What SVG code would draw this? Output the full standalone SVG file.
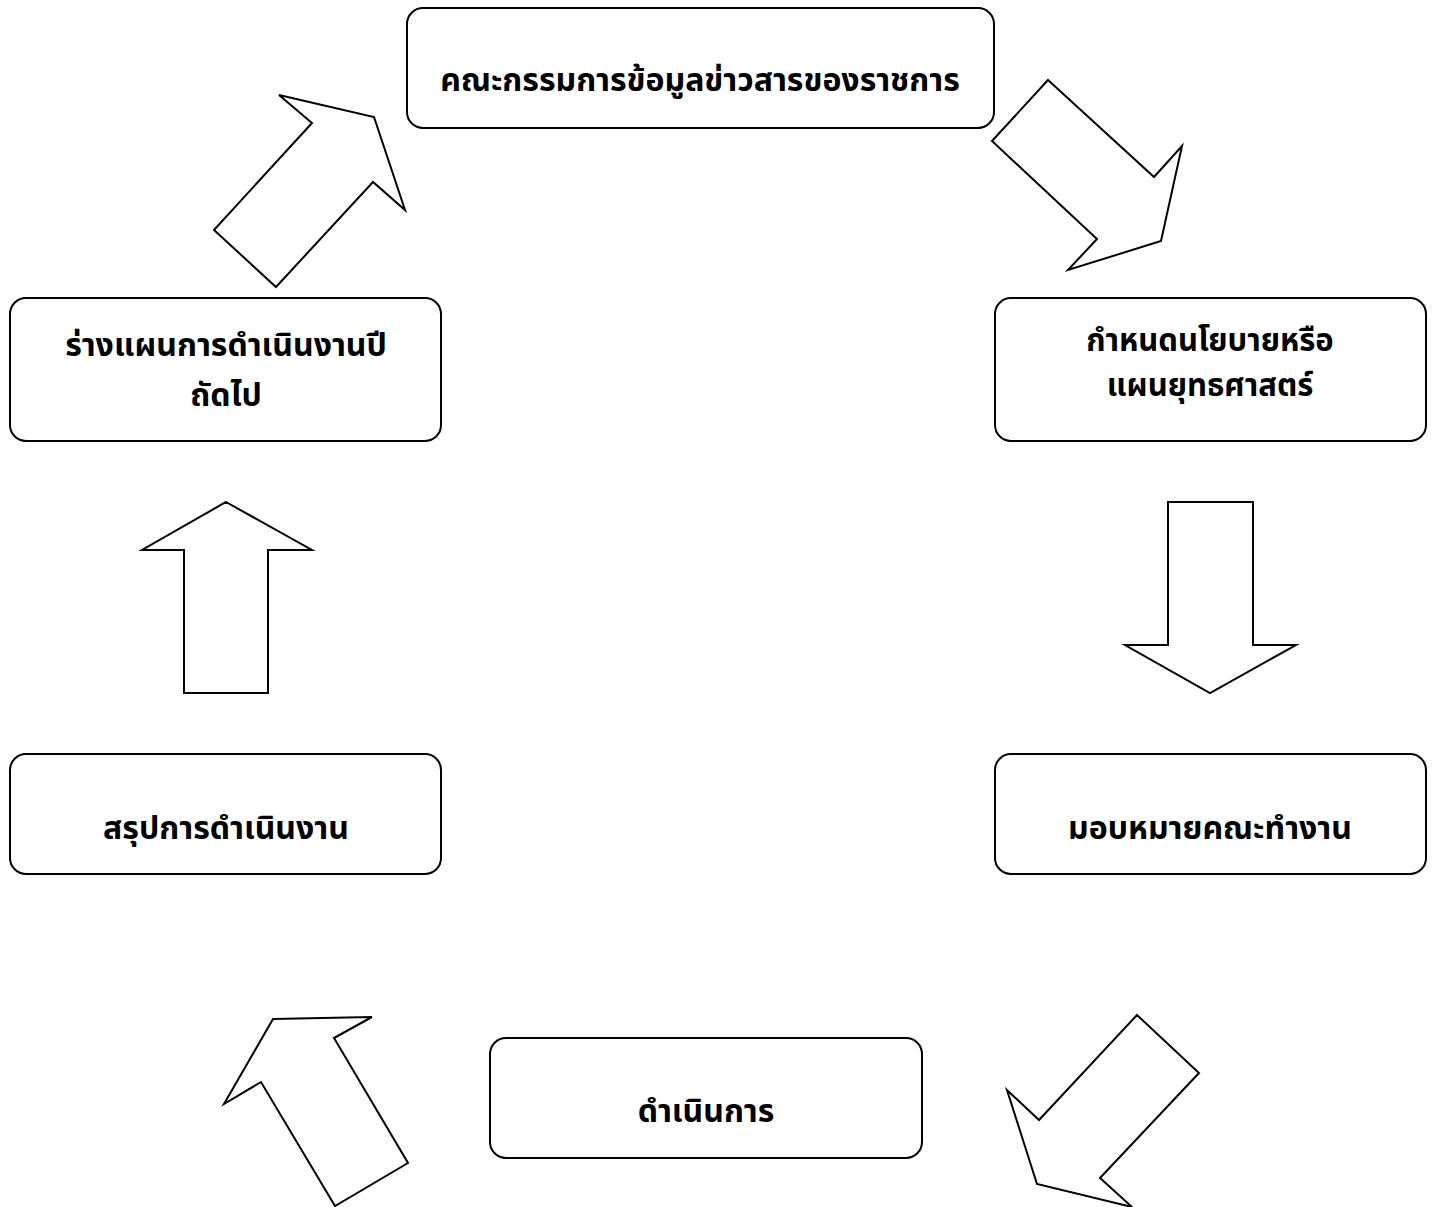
<svg xmlns="http://www.w3.org/2000/svg" width="1436" height="1207" viewBox="0 0 1436 1207">
<style>
.box{fill:#fff;stroke:#000;stroke-width:2}
.arr{fill:#fff;stroke:#000;stroke-width:2;stroke-linejoin:miter}
.t{font-family:"Noto Sans Thai","Noto Sans","DejaVu Sans",sans-serif;font-weight:bold;font-size:32px;text-anchor:middle;fill:#000}
.s{font-size:31px}
</style>
<rect width="1436" height="1207" fill="#fff"/>
<g id="connectors">
<polygon class="arr" points="279,95 374,117 405,210 373,182 276,287 214,230 312,123"/>
<polygon class="arr" points="1048,80 1154,177 1182,146 1161,241 1068,270 1097,239 992,141"/>
<polygon class="arr" points="1168,502 1253,502 1253,645 1296,645 1210,693 1125,645 1168,645"/>
<polygon class="arr" points="226,502 312,550 268,550 268,693 184,693 184,550 142,550"/>
<polygon class="arr" points="1137,1015 1199,1073 1100,1178 1132,1207 1037,1184 1007,1090 1039,1120"/>
<polygon class="arr" points="273,1019 372,1017 334,1038 408,1163 335,1206 261,1082 224,1104"/>
</g>
<g id="n1">
<rect class="box" x="407" y="8" width="587" height="120" rx="16"/>
<text class="t" x="700" y="91">คณะกรรมการข้อมูลข่าวสารของราชการ</text>
</g>
<g id="n2">
<rect class="box" x="995" y="298" width="431" height="143" rx="16"/>
<text class="t s" x="1210" y="351">กำหนดนโยบายหรือ</text>
<text class="t s" x="1210" y="396">แผนยุทธศาสตร์</text>
</g>
<g id="n3">
<rect class="box" x="10" y="298" width="431" height="143" rx="16"/>
<text class="t" x="226" y="356">ร่างแผนการดำเนินงานปี</text>
<text class="t" x="226" y="406">ถัดไป</text>
</g>
<g id="n4">
<rect class="box" x="995" y="754" width="431" height="120" rx="16"/>
<text class="t" x="1210" y="839">มอบหมายคณะทำงาน</text>
</g>
<g id="n5">
<rect class="box" x="10" y="754" width="431" height="120" rx="16"/>
<text class="t" x="226" y="839">สรุปการดำเนินงาน</text>
</g>
<g id="n6">
<rect class="box" x="490" y="1038" width="432" height="120" rx="16"/>
<text class="t" x="706" y="1122">ดำเนินการ</text>
</g>
</svg>
